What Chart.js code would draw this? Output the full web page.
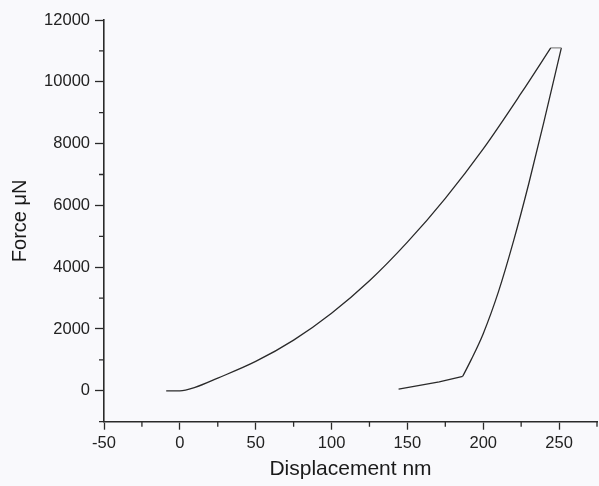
<!DOCTYPE html>
<html>
<head>
<meta charset="utf-8">
<script src="https://cdn.jsdelivr.net/npm/chart.js@4.4.1/dist/chart.umd.min.js"></script>
<style>
html,body{margin:0;padding:0;background:#f9f9fc;}
#wrap{width:599px;height:486px;position:relative;}
</style>
</head>
<body>
<div id="wrap"><canvas id="c" width="599" height="486"></canvas></div>
<script>
// Loading curve (displacement nm, force µN)
const loadX = [-9, 0, 10, 25, 50, 75, 100, 125, 150, 175, 200, 225, 244.5];
const loadY = [0, 0, 110, 410, 950, 1640, 2510, 3560, 4810, 6230, 7830, 9630, 11100];
// Hold at peak
const holdX = [244.5, 251.5];
const holdY = [11100, 11100];
// Unloading curve (upper part)
const unloadX = [251.5, 240, 230, 220, 210, 200, 192, 186.5];
const unloadY = [11100, 8700, 6700, 4850, 3200, 1850, 1000, 470];
// Unloading tail
const tailX = [186.5, 171, 144.2];
const tailY = [470, 290, 55];
// Axis ticks
const xTicks = [-50, 0, 50, 100, 150, 200, 250];
const xMinor = [-25, 25, 75, 125, 175, 225, 275];
const yTicks = [0, 2000, 4000, 6000, 8000, 10000, 12000];
const yMinor = [-1000, 1000, 3000, 5000, 7000, 9000, 11000];

const toPts = (xs, ys) => xs.map((x, i) => ({x: x, y: ys[i]}));
const ink = '#2a2a2a';

const minorTicks = {
  id: 'minorTicks',
  afterDraw(chart) {
    const ctx = chart.ctx, xs = chart.scales.x, ys = chart.scales.y;
    ctx.save();
    ctx.strokeStyle = ink;
    ctx.lineWidth = 1.3;
    ctx.beginPath();
    xMinor.forEach(v => {
      const px = xs.getPixelForValue(v);
      ctx.moveTo(px, xs.top); ctx.lineTo(px, xs.top + 5);
    });
    yMinor.forEach(v => {
      const py = ys.getPixelForValue(v);
      ctx.moveTo(ys.right, py); ctx.lineTo(ys.right - 5, py);
    });
    ctx.stroke();
    ctx.restore();
  }
};

const lineDs = (xs, ys, smooth) => ({
  data: toPts(xs, ys), showLine: true, borderColor: ink, borderWidth: 1.3,
  pointRadius: 0, cubicInterpolationMode: smooth ? 'monotone' : 'default', tension: 0
});

new Chart(document.getElementById('c'), {
  type: 'scatter',
  data: {
    datasets: [
      lineDs(loadX, loadY, true),
      Object.assign(lineDs(holdX, holdY, false), {borderColor: '#8a8a8a'}),
      lineDs(unloadX, unloadY, true),
      lineDs(tailX, tailY, false)
    ]
  },
  options: {
    responsive: false,
    animation: false,
    layout: {padding: {top: 20, right: 2, left: 0, bottom: 0}},
    plugins: {legend: {display: false}, tooltip: {enabled: false}},
    scales: {
      x: {
        type: 'linear', min: -50, max: 275,
        afterBuildTicks: a => { a.ticks = xTicks.map(v => ({value: v})); },
        afterFit: s => { s.height = 64.3; },
        grid: {drawOnChartArea: false, drawTicks: true, tickLength: 8, color: ink, tickWidth: 1.3},
        border: {display: true, color: ink, width: 1.6},
        ticks: {color: '#222', font: {family: 'Liberation Sans, Arial', size: 16.5}, padding: 4, maxRotation: 0,
                callback: v => String(v)},
        title: {display: true, text: 'Displacement nm', color: '#1a1a1a', font: {family: 'Liberation Sans, Arial', size: 21}, padding: {top: 4, bottom: 4}}
      },
      y: {
        type: 'linear', min: -1000, max: 12000,
        afterBuildTicks: a => { a.ticks = yTicks.map(v => ({value: v})); },
        afterFit: s => { s.width = 104; },
        grid: {drawOnChartArea: false, drawTicks: true, tickLength: 9, color: ink, tickWidth: 1.3},
        border: {display: true, color: ink, width: 1.6},
        ticks: {color: '#222', font: {family: 'Liberation Sans, Arial', size: 16.5}, padding: 5,
                callback: v => String(v)},
        title: {display: true, text: 'Force μN', color: '#1a1a1a', font: {family: 'Liberation Sans, Arial', size: 20}, padding: {top: 8, bottom: 0}}
      }
    }
  },
  plugins: [minorTicks]
});
</script>
</body>
</html>
